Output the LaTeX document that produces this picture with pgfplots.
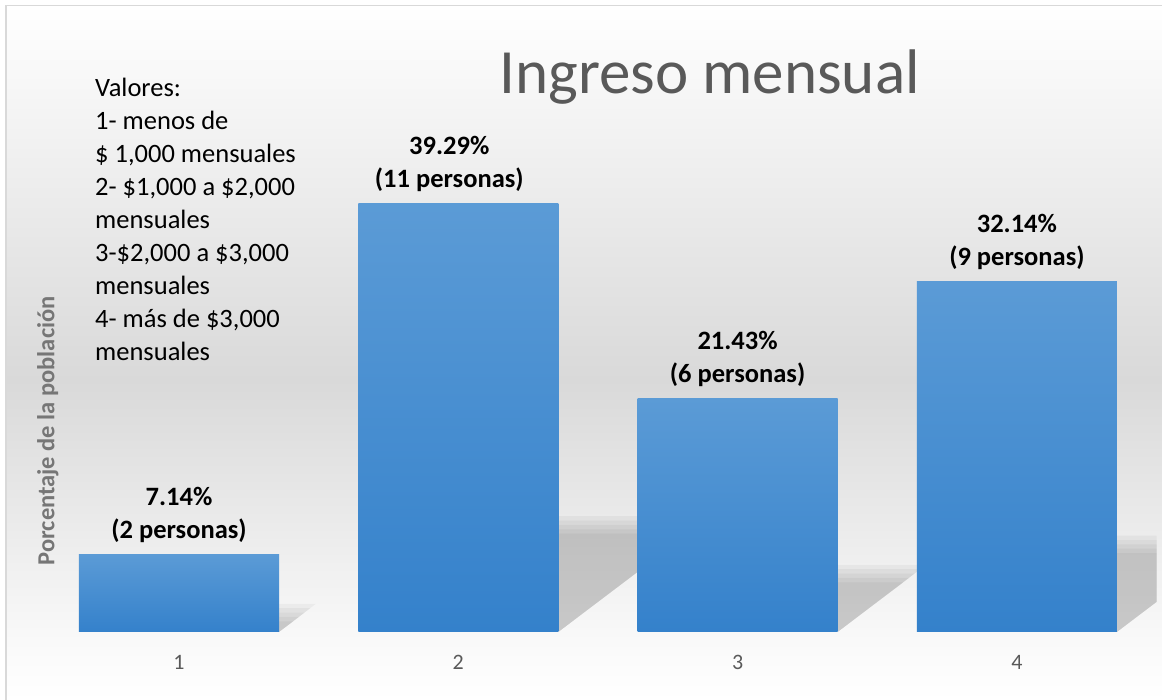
\documentclass[border=0pt]{standalone}
\usepackage{fontspec}
\setmainfont{Carlito}
\usepackage{pgfplots}
\pgfplotsset{compat=1.18}

\definecolor{bgmid}{HTML}{D9D9D9}
\definecolor{bglow}{HTML}{F8F8F8}
\definecolor{bartop}{HTML}{5B9BD6}
\definecolor{barbot}{HTML}{3481CB}
\definecolor{txtgrey}{HTML}{595959}
\definecolor{labgrey}{HTML}{767676}
\definecolor{framegrey}{HTML}{D9D9D9}

\begin{document}
\begin{tikzpicture}
% chart background
\shade[top color=white,bottom color=bgmid] (5pt,320pt) rectangle (1162pt,695pt);
\shade[top color=bgmid,bottom color=bglow] (5pt,68pt) rectangle (1162pt,320.5pt);
\shade[top color=bglow,bottom color=white] (5pt,0pt) rectangle (1162pt,68.5pt);
\draw[framegrey,line width=1.5pt] (5.75pt,0pt) -- (5.75pt,694.25pt) -- (1162pt,694.25pt);

% text box
\node[anchor=north west,inner sep=0pt,align=left,font=\fontsize{26.5}{33}\selectfont]
  at (95pt,622pt) {Valores:\\1- menos de\\\$ 1,000 mensuales\\2- \$1,000 a \$2,000\\mensuales\\3-\$2,000 a \$3,000\\mensuales\\4- más de \$3,000\\mensuales};

\begin{axis}[
  at={(39.35pt,68pt)}, anchor=south west,
  scale only axis, width=1117.2pt, height=545pt,
  xmin=0.5, xmax=4.5, ymin=0, ymax=50,
  axis line style={draw=none},
  ytick=\empty,
  xtick={1,2,3,4}, xticklabels={1,2,3,4},
  major tick length=0pt,
  xticklabel style={font=\fontsize{22}{26}\selectfont, text=txtgrey, inner sep=0pt, anchor=north, yshift=-23pt},
  ylabel={Porcentaje de la población},
  ylabel style={at={(axis description cs:0.0077,0.369)}, anchor=center,
    font=\bfseries\fontsize{24.5}{29}\selectfont, text=labgrey},
  title={Ingreso mensual},
  title style={at={(axis description cs:0.5999,0.977)}, anchor=base,
    font=\fontsize{63}{75}\selectfont, text=txtgrey},
  bar width=200pt, bar shift=0pt,
  every node near coord/.append style={font=\bfseries\fontsize{26.5}{33}\selectfont,
    align=center, anchor=south, inner sep=0pt, yshift=11.5pt, text=black},
  bars/.style={ybar, draw=none, top color=bartop, bottom color=barbot},
  labels/.style={ybar, draw=none, fill=none, nodes near coords={#1}},
  shadow/.style={draw=none, fill=black, opacity=0.038, mark=none},
]
% soft shadows to the right of each bar (stacked layers give a blurred edge)
\addplot[shadow] coordinates {(1.358,0) (1.490,2.585) (1.358,2.585)} -- cycle;
\addplot[shadow] coordinates {(1.358,0) (1.470,2.185) (1.358,2.185)} -- cycle;
\addplot[shadow] coordinates {(1.358,0) (1.450,1.785) (1.358,1.785)} -- cycle;
\addplot[shadow] coordinates {(1.358,0) (1.430,1.385) (1.358,1.385)} -- cycle;
\addplot[shadow] coordinates {(1.358,0) (1.410,0.985) (1.358,0.985)} -- cycle;
\addplot[shadow] coordinates {(2.358,0) (2.904,10.62) (2.358,10.62)} -- cycle;
\addplot[shadow] coordinates {(2.358,0) (2.884,10.22) (2.358,10.22)} -- cycle;
\addplot[shadow] coordinates {(2.358,0) (2.864,9.82) (2.358,9.82)} -- cycle;
\addplot[shadow] coordinates {(2.358,0) (2.844,9.42) (2.358,9.42)} -- cycle;
\addplot[shadow] coordinates {(2.358,0) (2.824,9.02) (2.358,9.02)} -- cycle;
\addplot[shadow] coordinates {(3.358,0) (3.674,6.16) (3.358,6.16)} -- cycle;
\addplot[shadow] coordinates {(3.358,0) (3.654,5.76) (3.358,5.76)} -- cycle;
\addplot[shadow] coordinates {(3.358,0) (3.634,5.36) (3.358,5.36)} -- cycle;
\addplot[shadow] coordinates {(3.358,0) (3.614,4.96) (3.358,4.96)} -- cycle;
\addplot[shadow] coordinates {(3.358,0) (3.594,4.56) (3.358,4.56)} -- cycle;
\addplot[shadow] coordinates {(4.358,0) (4.812,8.84) (4.358,8.84)} -- cycle;
\addplot[shadow] coordinates {(4.358,0) (4.792,8.44) (4.358,8.44)} -- cycle;
\addplot[shadow] coordinates {(4.358,0) (4.772,8.04) (4.358,8.04)} -- cycle;
\addplot[shadow] coordinates {(4.358,0) (4.752,7.64) (4.358,7.64)} -- cycle;
\addplot[shadow] coordinates {(4.358,0) (4.732,7.24) (4.358,7.24)} -- cycle;

% bars, each its own path so that each gets its own gradient
\addplot[bars] coordinates {(1,7.14)};
\addplot[bars] coordinates {(2,39.29)};
\addplot[bars] coordinates {(3,21.43)};
\addplot[bars] coordinates {(4,32.14)};

% data labels
\addplot[labels={7.14\%\\(2 personas)}] coordinates {(1,7.14)};
\addplot[labels={39.29\%\\(11 personas)},
  every node near coord/.append style={xshift=-9pt}] coordinates {(2,39.29)};
\addplot[labels={21.43\%\\(6 personas)}] coordinates {(3,21.43)};
\addplot[labels={32.14\%\\(9 personas)}] coordinates {(4,32.14)};
\end{axis}
\pgfresetboundingbox
\path[use as bounding box] (0pt,0pt) rectangle (1162pt,700pt);
\end{tikzpicture}
\end{document}
